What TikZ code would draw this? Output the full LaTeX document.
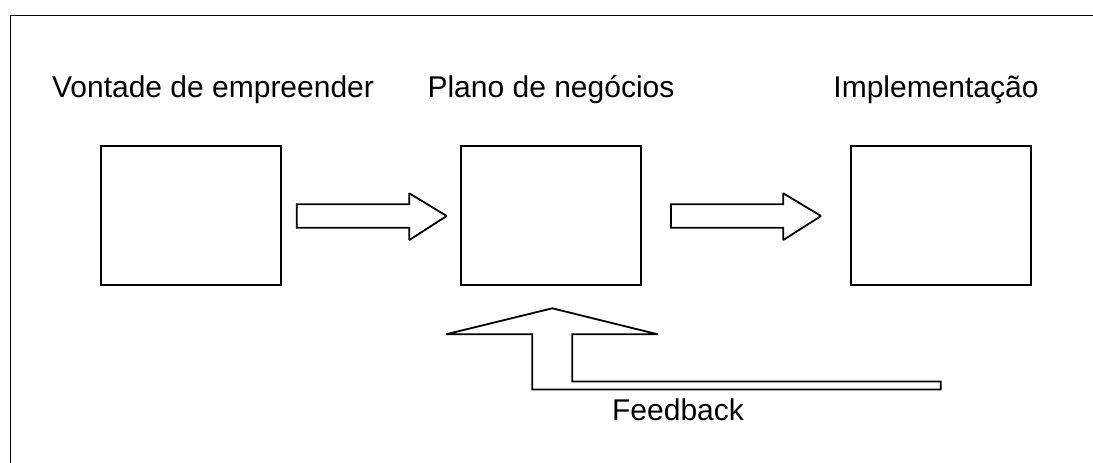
\documentclass[tikz,border=0pt]{standalone}
\usepackage{fontspec}
\setmainfont{Liberation Sans}
\begin{document}
\begin{tikzpicture}[x=1pt,y=-1pt,
  line width=1.9pt, line join=miter, miter limit=1.5,
  stagebox/.style={draw, rectangle, minimum width=180pt, minimum height=139pt, inner sep=0pt},
  blockarrow/.style={draw, line width=1.8pt},
  lbl/.style={font=\fontsize{30}{36}\selectfont, anchor=base, inner sep=0pt}]
\useasboundingbox (0,0) rectangle (1093,463);
\clip (0,0) rectangle (1093,463);
% outer frame (right and bottom edges lie outside the picture)
\draw (10.5,15.5) rectangle (1110,480);
% boxes
\node[stagebox] (b1) at (191,215.5) {};
\node[stagebox] (b2) at (551,215.5) {};
\node[stagebox] (b3) at (941,215.5) {};
% labels
\node[lbl] (t1) at (213,97.5) {Vontade de empreender};
\node[lbl] (t2) at (551,97.5) {Plano de negócios};
\node[lbl] (t3) at (936,97.5) {Implementação};
\node[lbl] (t4) at (678,420.5) {Feedback};
% block arrows
\draw[blockarrow] (296.7,204.3) -- (409.3,204.3) -- (409.3,193.3) -- (446.7,216) -- (409.3,240) -- (409.3,227.7) -- (296.7,227.7) -- cycle;
\draw[blockarrow] (671,204.3) -- (783.3,204.3) -- (783.3,193.3) -- (821,216) -- (783.3,240) -- (783.3,227.7) -- (671,227.7) -- cycle;
% feedback arrow
\draw[blockarrow] (572.3,334.3) -- (657.7,334.3) -- (552.3,308.3) -- (446,334.3) -- (532.3,334.3) -- (532.3,389.5) -- (940.7,389.5) -- (940.7,381.5) -- (572.3,381.5) -- cycle;
\end{tikzpicture}
\end{document}
